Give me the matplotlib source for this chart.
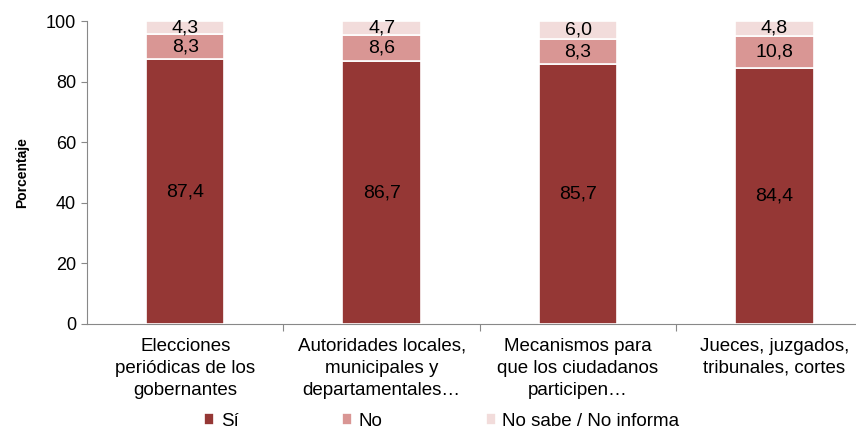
import matplotlib.pyplot as plt
import numpy as np

plt.rcParams['font.family'] = ['Liberation Sans', 'DejaVu Sans']

categorias = [
    "Elecciones\nperiódicas de los\ngobernantes",
    "Autoridades locales,\nmunicipales y\ndepartamentales…",
    "Mecanismos para\nque los ciudadanos\nparticipen…",
    "Jueces, juzgados,\ntribunales, cortes",
]
si = [87.4, 86.7, 85.7, 84.4]
no = [8.3, 8.6, 8.3, 10.8]
ns = [4.3, 4.7, 6.0, 4.8]

colores = ["#953735", "#D99694", "#F2DCDB"]
nombres = ["Sí", "No", "No sabe / No informa"]

fig = plt.figure(figsize=(8.56, 4.29), dpi=100)
ax = fig.add_axes([87/856, 1 - 324/429, (855 - 87)/856, (324 - 21)/429])

x = np.arange(len(categorias))
ancho = 0.4
base = np.zeros(len(categorias))
for serie, color, nombre in zip([si, no, ns], colores, nombres):
    barras = ax.bar(x, serie, ancho, bottom=base, color=color, edgecolor="white",
                    linewidth=1.2, label=nombre, zorder=3)
    for b, v in zip(barras, serie):
        ax.text(b.get_x() + b.get_width()/2, b.get_y() + b.get_height()/2,
                f"{v:.1f}".replace(".", ","), ha="center", va="center",
                fontsize=14, color="black", zorder=4)
    base += np.array(serie)

ax.set_ylim(0, 100)
ax.set_xlim(-0.5, 3.41)
ax.set_yticks(range(0, 101, 20))
ax.tick_params(axis="y", labelsize=13, length=4, color="#888888", pad=4)
ax.set_xticks([0.5, 1.5, 2.5])
ax.set_xticklabels([])
ax.tick_params(axis="x", length=5, color="#888888", direction="out")
for xi, lab in zip(x, categorias):
    ax.text(xi, -4.5, lab, ha="center", va="top", fontsize=13.5, linespacing=1.38)
ax.set_ylabel("Porcentaje", fontsize=10, fontweight="bold", labelpad=12)

for s in ["top", "right"]:
    ax.spines[s].set_visible(False)
for s in ["left", "bottom"]:
    ax.spines[s].set_color("#888888")

ax.legend(loc="center", bbox_to_anchor=(0.516, 1 - 421/429), bbox_transform=fig.transFigure,
          ncol=3, frameon=False, fontsize=13.5, handlelength=0.55, handleheight=0.55,
          columnspacing=5.5, handletextpad=0.35)

fig.savefig("out.png", dpi=100)
